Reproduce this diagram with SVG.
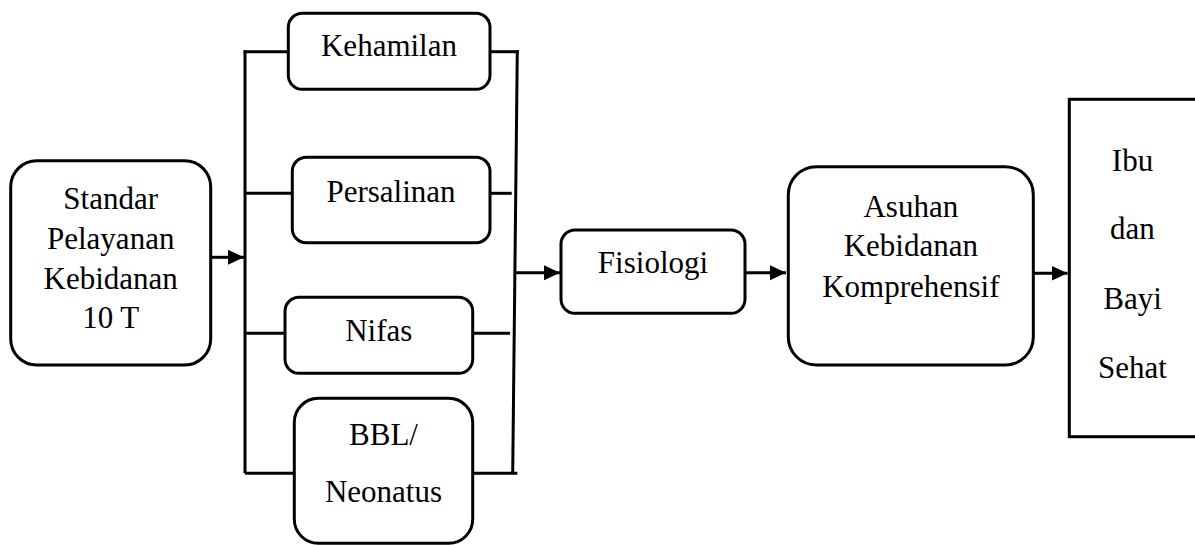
<svg xmlns="http://www.w3.org/2000/svg" width="1195" height="545" viewBox="0 0 1195 545">
<style>
.box{fill:#fff;stroke:#000;stroke-width:3}
.ln{fill:none;stroke:#000;stroke-width:3}
.t{font-family:"Liberation Serif","Times New Roman",serif;font-size:31px;fill:#000;text-anchor:middle}
</style>
<defs>
<marker id="ah" markerUnits="userSpaceOnUse" markerWidth="16" markerHeight="16" viewBox="0 0 16 16" refX="16" refY="8" orient="auto">
<path d="M0,0.5 L16,8 L0,15.5 Z" fill="#000"/>
</marker>
</defs>
<rect width="1195" height="545" fill="#fff"/>
<g id="connectors">
<path class="ln" d="M212,257.3 H244" marker-end="url(#ah)"/>
<path class="ln" d="M245,50.2 V473.3"/>
<path class="ln" d="M243.5,51.7 H288.3"/>
<path class="ln" d="M245,193.3 H292.3"/>
<path class="ln" d="M245,333.3 H285"/>
<path class="ln" d="M245,473.3 H294.3"/>
<path class="ln" d="M490,51.7 H518.8"/>
<path class="ln" d="M517.3,50.2 L512.7,473.3"/>
<path class="ln" d="M490,193.3 H511.7"/>
<path class="ln" d="M472.7,333.3 H510"/>
<path class="ln" d="M472.7,473.3 H517.3"/>
<path class="ln" d="M515,272.7 H560" marker-end="url(#ah)"/>
<path class="ln" d="M745,272.7 H786" marker-end="url(#ah)"/>
<path class="ln" d="M1033.3,273.3 H1067.5" marker-end="url(#ah)"/>
</g>
<g id="standar">
<rect class="box" x="10.7" y="160.7" width="200" height="204.3" rx="26"/>
<text class="t" x="110.7" y="209.3">Standar</text>
<text class="t" x="110.7" y="249.3">Pelayanan</text>
<text class="t" x="110.7" y="289.3">Kebidanan</text>
<text class="t" x="110.7" y="328.3">10 T</text>
</g>
<g id="kehamilan">
<rect class="box" x="288.3" y="13.3" width="201.7" height="76" rx="14"/>
<text class="t" x="389" y="56">Kehamilan</text>
</g>
<g id="persalinan">
<rect class="box" x="292.3" y="157.3" width="197.7" height="85.4" rx="14"/>
<text class="t" x="391" y="201.7">Persalinan</text>
</g>
<g id="nifas">
<rect class="box" x="285" y="297.3" width="187.7" height="76" rx="14"/>
<text class="t" x="378.8" y="340.7">Nifas</text>
</g>
<g id="bbl">
<rect class="box" x="294.3" y="398.3" width="178.4" height="145" rx="24"/>
<text class="t" x="383.5" y="445">BBL/</text>
<text class="t" x="383.5" y="501.7">Neonatus</text>
</g>
<g id="fisiologi">
<rect class="box" x="561" y="230" width="184" height="83.3" rx="14"/>
<text class="t" x="653" y="272.7">Fisiologi</text>
</g>
<g id="asuhan">
<rect class="box" x="788.3" y="166.7" width="245" height="198.3" rx="28"/>
<text class="t" x="910.8" y="216.7">Asuhan</text>
<text class="t" x="910.8" y="256">Kebidanan</text>
<text class="t" x="910.8" y="296.7">Komprehensif</text>
</g>
<g id="ibu">
<rect class="box" x="1069.3" y="99.3" width="140" height="337.4"/>
<text class="t" x="1132.5" y="170.7">Ibu</text>
<text class="t" x="1132.5" y="239.3">dan</text>
<text class="t" x="1132.5" y="309.3">Bayi</text>
<text class="t" x="1132.5" y="378.3">Sehat</text>
</g>
</svg>
